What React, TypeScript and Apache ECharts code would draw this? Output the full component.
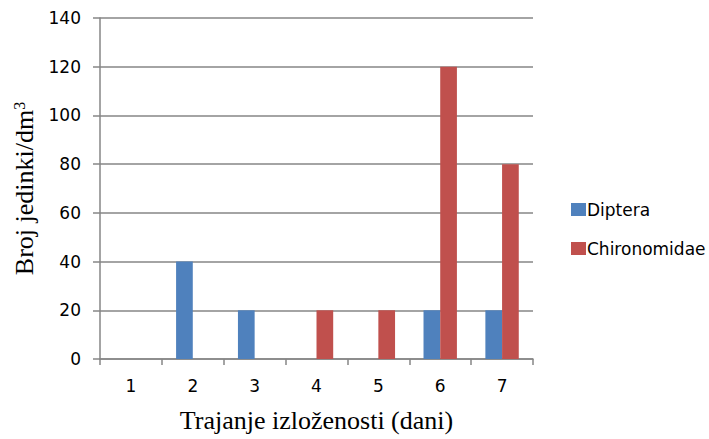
import React, { useEffect, useRef } from "react";
import * as echarts from "echarts";

const categories = ["1", "2", "3", "4", "5", "6", "7"];
const diptera = [0, 40, 20, 0, 0, 20, 20];
const chironomidae = [0, 0, 0, 20, 20, 120, 80];
const yTicks = { min: 0, max: 140, interval: 20 };

export default function App() {
  const ref = useRef<HTMLDivElement>(null);
  useEffect(() => {
    document.body.style.margin = "0";
    if (!ref.current) return;
    const chart = echarts.init(ref.current, null, { renderer: "svg" });
    const axisColor = "#868686";
    chart.setOption({
      animation: false,
      backgroundColor: "#ffffff",
      grid: { left: 100, right: 176, top: 18, bottom: 80, containLabel: false },
      legend: {
        orient: "vertical",
        left: 566,
        top: 196,
        itemWidth: 15,
        itemHeight: 13,
        itemGap: 22,
        icon: "rect",
        textStyle: { fontFamily: "DejaVu Sans", fontSize: 17, color: "#000", padding: [0, 0, 0, -4] },
        data: ["Diptera", "Chironomidae"],
      },
      xAxis: {
        type: "category",
        data: categories,
        name: "Trajanje izloženosti (dani)",
        nameLocation: "middle",
        nameGap: 48,
        nameTextStyle: { fontFamily: "Liberation Serif", fontSize: 26, color: "#000" },
        axisLine: { lineStyle: { color: axisColor, width: 1.5 } },
        axisTick: { show: true, length: 6, alignWithLabel: false, lineStyle: { color: axisColor, width: 1.5 } },
        axisLabel: { fontFamily: "DejaVu Sans", fontSize: 17, color: "#000", margin: 18 },
        splitLine: { show: false },
      },
      yAxis: {
        type: "value",
        min: yTicks.min,
        max: yTicks.max,
        interval: yTicks.interval,
        name: "{a|Broj jedinki/dm}{s|3}",
        nameLocation: "middle",
        nameGap: 63,
        nameRotate: 90,
        nameTextStyle: {
          fontFamily: "Liberation Serif",
          fontSize: 26,
          color: "#000",
          rich: {
            a: { fontFamily: "Liberation Serif", fontSize: 26, color: "#000" },
            s: { fontFamily: "Liberation Serif", fontSize: 16, color: "#000", verticalAlign: "top", padding: [0, 0, 10, 0] },
          },
        },
        axisLine: { show: true, lineStyle: { color: axisColor, width: 1.5 } },
        axisTick: { show: true, length: 7, lineStyle: { color: axisColor, width: 1.5 } },
        axisLabel: { fontFamily: "DejaVu Sans", fontSize: 17, color: "#000", margin: 19 },
        splitLine: { show: true, lineStyle: { color: axisColor, width: 1.5 } },
      },
      series: [
        {
          name: "Diptera",
          type: "bar",
          data: diptera,
          barGap: "0%",
          barCategoryGap: "46%",
          itemStyle: { color: "#4F81BD" },
        },
        {
          name: "Chironomidae",
          type: "bar",
          data: chironomidae,
          barGap: "0%",
          barCategoryGap: "46%",
          itemStyle: { color: "#C0504D" },
        },
      ],
    });
    return () => chart.dispose();
  }, []);
  return <div ref={ref} style={{ width: 709, height: 439 }} />;
}
